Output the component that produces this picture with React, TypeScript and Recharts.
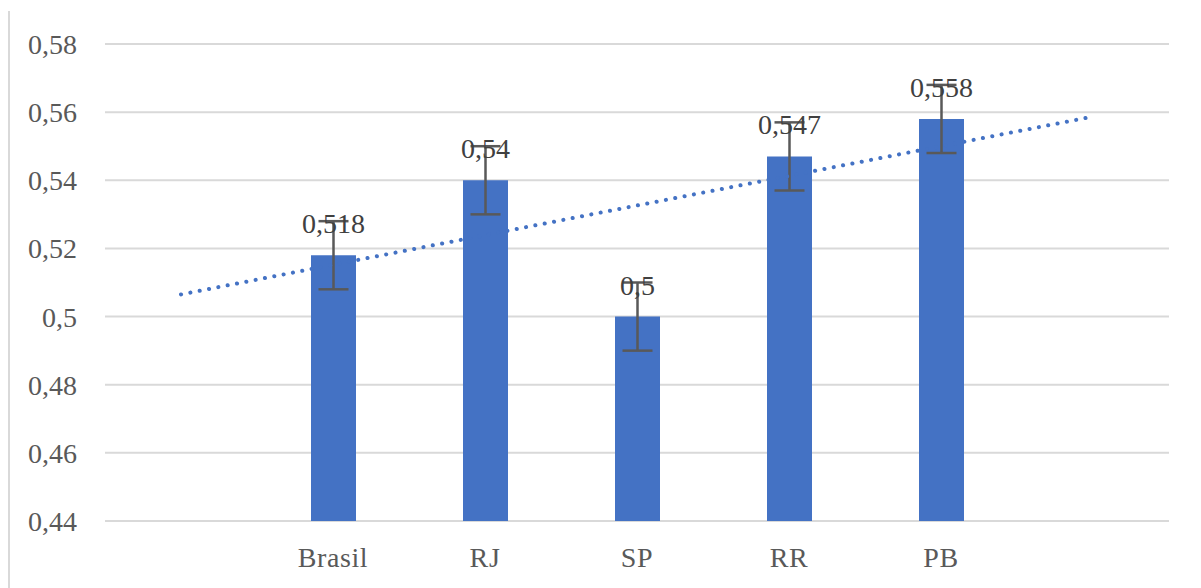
import React from 'react';
import { ComposedChart, Bar, Line, XAxis, YAxis, CartesianGrid, ErrorBar, LabelList } from 'recharts';

// first and last slots are empty so the trendline can run one period past each end
const categories = ['', 'Brasil', 'RJ', 'SP', 'RR', 'PB', ' '];
const values: (number | null)[] = [null, 0.518, 0.54, 0.5, 0.547, 0.558, null];
const errors: (number | null)[] = [null, 0.01, 0.01, 0.01, 0.01, 0.01, null];
const trend = [0.5065, 0.5152, 0.5239, 0.5326, 0.5413, 0.55, 0.5587];
const yTicks = [0.44, 0.46, 0.48, 0.5, 0.52, 0.54, 0.56, 0.58];

const data = categories.map((name, i) => ({
    name,
    value: values[i],
    err: errors[i],
    trend: trend[i],
}));

const fmt = (v: any) => (v === null || v === undefined ? '' : String(v).replace('.', ','));

const FONT = 'Liberation Serif, Times New Roman, serif';

export default function App() {
    return (
        <div style={{ marginTop: 3, marginLeft: 2, fontFamily: FONT }}>
            <div
                style={{
                    position: 'fixed',
                    left: 8,
                    top: 11,
                    bottom: 0,
                    width: 2,
                    background: '#d9d9d9',
                }}
            />
            <ComposedChart
                width={1180}
                height={570}
                data={data}
                margin={{ top: 33, right: 21, left: 0, bottom: 10 }}
                barSize={45}
                style={{ fontFamily: FONT }}
            >
                <CartesianGrid vertical={false} stroke="#d9d9d9" strokeWidth={2} />
                <XAxis
                    dataKey="name"
                    axisLine={false}
                    tickLine={false}
                    tickSize={6}
                    tickMargin={20}
                    height={50}
                    interval={0}
                    tick={{ fontSize: 28, fill: '#595959', style: { fontFamily: FONT, letterSpacing: 0.6 } }}
                />
                <YAxis
                    domain={[0.44, 0.58]}
                    ticks={yTicks}
                    width={95}
                    axisLine={false}
                    tickLine={false}
                    tickSize={6}
                    tickMargin={22}
                    tickFormatter={fmt}
                    tick={{ fontSize: 28, fill: '#595959', style: { fontFamily: FONT } }}
                />
                <Bar dataKey="value" fill="#4472C4" isAnimationActive={false}>
                    <ErrorBar dataKey="err" width={15} stroke="#595959" strokeWidth={2.5} direction="y" />
                    <LabelList
                        dataKey="value"
                        position="top"
                        offset={22}
                        formatter={fmt}
                        style={{ fontSize: 28, fill: '#404040', fontFamily: FONT }}
                    />
                </Bar>
                <Line
                    dataKey="trend"
                    type="linear"
                    stroke="#4472C4"
                    strokeWidth={4}
                    strokeLinecap="round"
                    strokeDasharray="0.1 9.4"
                    dot={false}
                    activeDot={false}
                    isAnimationActive={false}
                />
            </ComposedChart>
        </div>
    );
}
